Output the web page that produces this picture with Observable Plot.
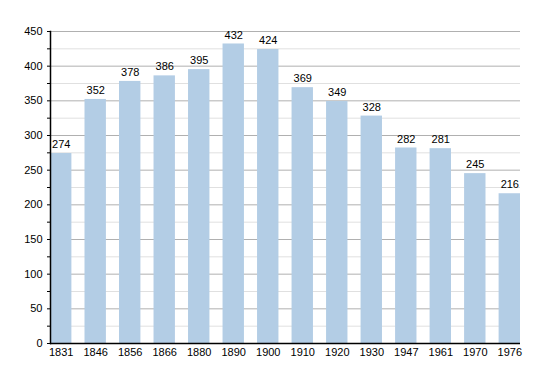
<!DOCTYPE html>
<html>
<head>
<meta charset="utf-8">
<script src="https://cdn.jsdelivr.net/npm/d3@7"></script>
<script src="https://cdn.jsdelivr.net/npm/@observablehq/plot@0.6"></script>
<style>
body{margin:0;background:#fff;}
#chart{width:550px;height:373px;}
</style>
</head>
<body>
<div id="chart"></div>
<script>
const years = ["1831","1846","1856","1866","1880","1890","1900","1910","1920","1930","1947","1961","1970","1976"];
const population = [274,352,378,386,395,432,424,369,349,328,282,281,245,216];
const majorTicks = d3.range(0, 451, 50);
const minorTicks = d3.range(25, 450, 50);

const data = years.map((y,i)=>({year:y, value:population[i]}));

const chart = Plot.plot({
  width: 550,
  height: 373,
  marginLeft: 50,
  marginRight: 30,
  marginTop: 31,
  marginBottom: 30,
  style: {fontFamily: "'Liberation Sans', Arial, sans-serif", fontSize: "11px", color: "#000", background: "#fff"},
  x: {domain: years, paddingInner: 0.38, paddingOuter: 0, round: false, label: null},
  y: {domain: [0,450], label: null},
  marks: [
    Plot.ruleY(minorTicks, {stroke: "#e0e0e0", strokeWidth: 1}),
    Plot.ruleY(majorTicks.filter(d=>d>0), {stroke: "#b0b0b0", strokeWidth: 1}),
    Plot.barY(data, {x: "year", y: "value", fill: "#b3cde5"}),
    Plot.text(data, {x: "year", y: "value", text: d=>String(d.value), dy: -9, fill: "#000", fontSize: 11}),
    Plot.axisY(majorTicks, {tickSize: 3, tickPadding: 5, stroke: "#000", fill: "#000", fontSize: 11}),
    Plot.axisY(minorTicks, {tickSize: 3, text: null, stroke: "#000"}),
    Plot.axisX({tickSize: 0, tickPadding: 5, fill: "#000", fontSize: 11}),
    Plot.frame({anchor: "left", stroke: "#000", strokeWidth: 1.5}),
    Plot.ruleY([0], {stroke: "#000", strokeWidth: 1.5})
  ]
});
document.getElementById("chart").appendChild(chart);
</script>
</body>
</html>
